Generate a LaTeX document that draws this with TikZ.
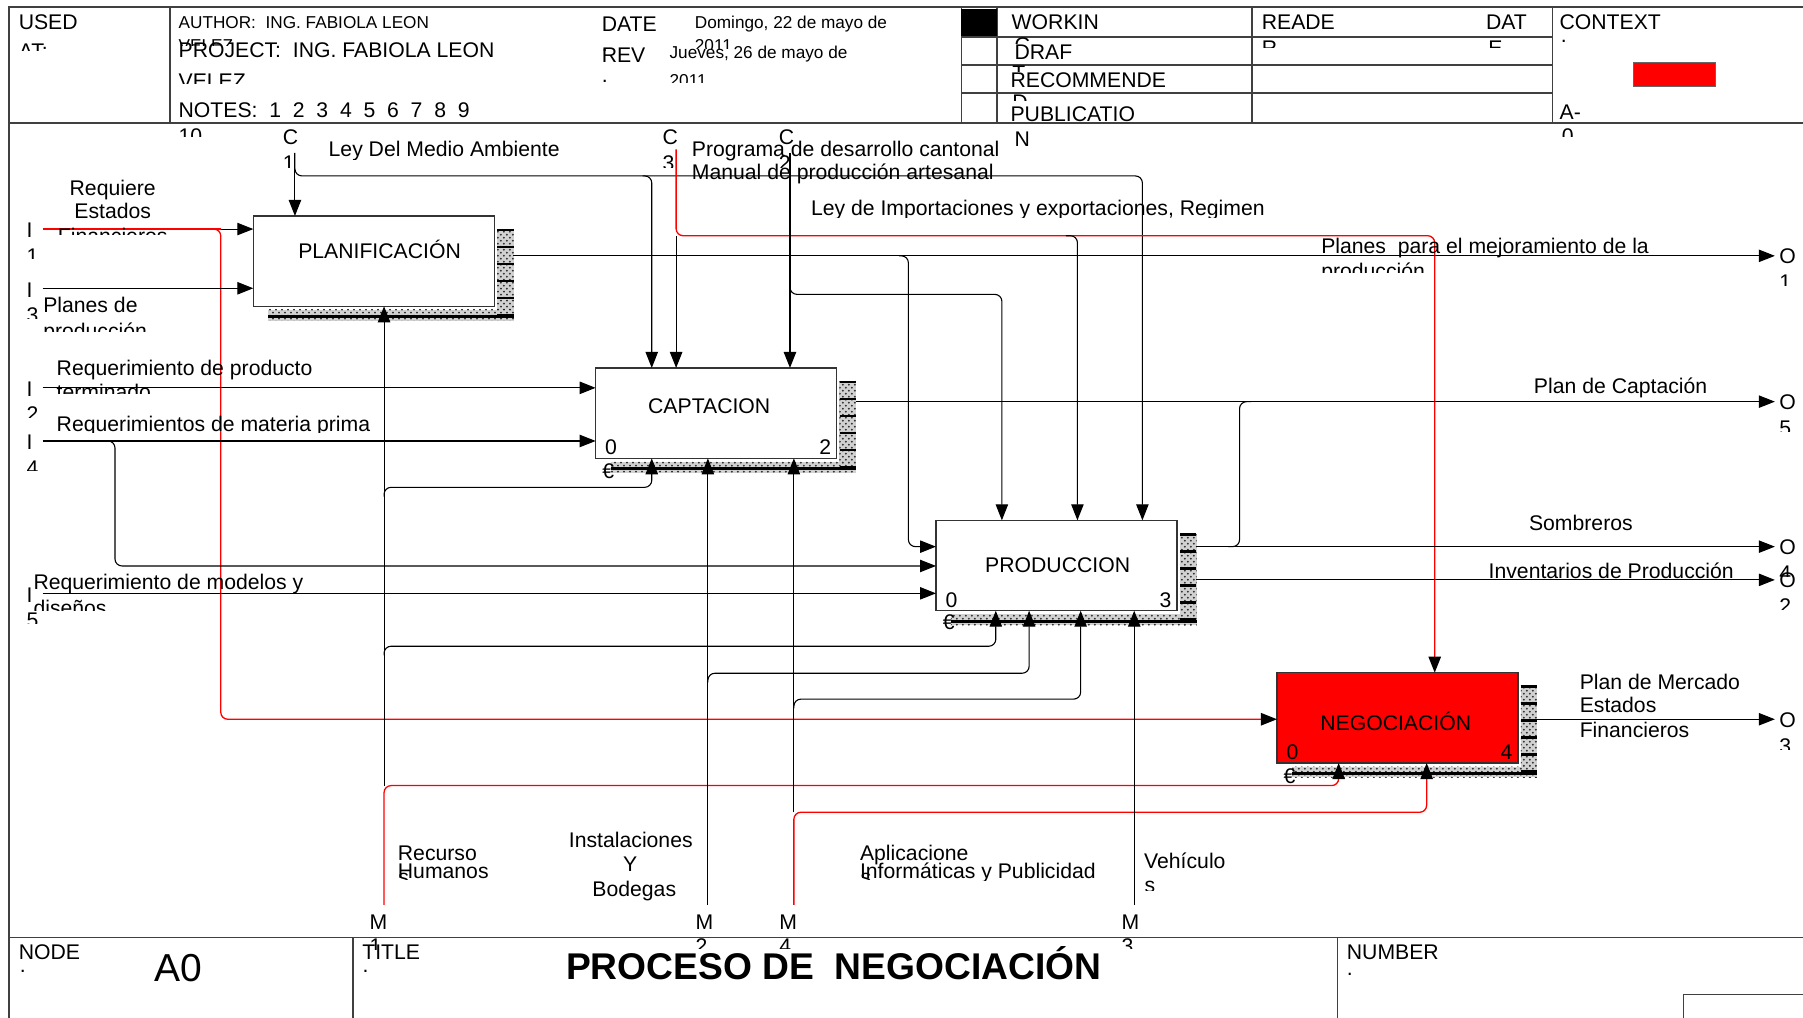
\documentclass[tikz,border=0pt]{standalone}
\usepackage{fontspec}
\setmainfont{Liberation Sans}
\usetikzlibrary{arrows.meta,calc,patterns}

\newcommand{\cutlabel}[6][lbl]{%
  \begin{scope}
    \clip (#3-300,#4-40) rectangle (#3+600,#5);
    \node[#1] (#2) at (#3,#4) {#6};
  \end{scope}}

\newcommand{\boxshade}[1]{%
  \fill[shadefill] ($(#1.north east)+(2.5,11.5)$) rectangle ($(#1.south east)+(17,12.5)$);
  \fill[shadefill] ($(#1.south west)+(13,3)$) rectangle ($(#1.south east)+(17,12.5)$);
  \draw[shadebar] ($(#1.south west)+(13,9)$) -- ($(#1.south east)+(17,9)$);
  \draw[shadetick] ($(#1.north east)+(9.75,11)$) -- ($(#1.south east)+(9.75,12.5)$);}

\begin{document}
\begin{tikzpicture}[x=0.575pt, y=-0.575pt,
                font=\fontsize{10.6}{12.7}\selectfont,
                >={Triangle[length=8pt,width=6.2pt,black]},
                lbl/.style={inner sep=0pt, anchor=base west},
                clbl/.style={inner sep=0pt, anchor=base},
                rlbl/.style={inner sep=0pt, anchor=base east},
                small/.style={lbl, font=\fontsize{8.6}{10}\selectfont},
                frame/.style={line width=0.75pt, draw=black!75},
                funcbox/.style={draw=black!80, line width=0.65pt, fill=white, anchor=north west,
                        inner sep=0pt, outer sep=0pt, minimum width=120.5pt, minimum height=45.2pt},
                shadefill/.style={preaction={fill=black!18}, pattern=crosshatch dots, pattern color=black!85},
                shadebar/.style={line width=1.5pt},
                shadetick/.style={line width=8.3pt, dash pattern=on 1.4pt off 7.1pt},
                arr/.style={->, line width=0.55pt, rounded corners=3.5pt},
                redarr/.style={arr, draw=red, line width=0.65pt},
                redline/.style={draw=red, line width=0.65pt, rounded corners=3.5pt},
                joinline/.style={line width=0.55pt, rounded corners=3.5pt},
            ]
            \useasboundingbox (0,0) rectangle (1568,885);

            \draw[frame] (8,885) -- (8,6) -- (1568,6);
            \draw[frame] (8,107) -- (1568,107);
            \draw[frame] (148,6) -- (148,107) (836,6) -- (836,107) (867,6) -- (867,107)
                (1089,6) -- (1089,107) (1350,6) -- (1350,107);
            \draw[frame] (836,32) -- (1350,32) (836,56.5) -- (1350,56.5) (836,81) -- (1350,81);
            \fill (836,8) rectangle (867,31);
            \filldraw[fill=red, draw=black!60, line width=0.5pt] (1421,54) rectangle (1492,75);
            \draw[frame] (8,815.5) -- (1568,815.5);
            \draw[frame] (307,815.5) -- (307,885) (1163,815.5) -- (1163,885);
            \draw[frame] (1464,885) -- (1464,865) -- (1568,865);

            \node[lbl] (used) at (16,25.5) {USED};
            \cutlabel{usedat}{16}{51}{44}{AT:}
            \node[small] (author) at (155,25) {AUTHOR:~ ING. FABIOLA LEON};
            \cutlabel[small]{authorb}{155}{45}{40}{VELEZ}
            \node[lbl] (project) at (155,50) {PROJECT:~ ING. FABIOLA LEON};
            \cutlabel{projectb}{155}{77}{72.5}{VELEZ}
            \node[lbl] (notes) at (155,102.5) {NOTES:~ 1~ 2~ 3~ 4~ 5~ 6~ 7~ 8~ 9};
            \cutlabel{notesb}{155}{125}{119}{10}
            \node[lbl] (date) at (523,27) {DATE};
            \node[lbl] (datedot) at (523,45) {.};
            \node[small] (datev) at (604,25) {Domingo, 22 de mayo de};
            \cutlabel[small]{datevb}{604}{45}{42}{2011}
            \node[lbl] (rev) at (523,54.5) {REV};
            \node[lbl] (revdot) at (523,72) {.};
            \node[small] (revv) at (582,51) {Jueves, 26 de mayo de};
            \cutlabel[small]{revvb}{582}{75}{72}{2011}

            \node[lbl] (working) at (879.5,25.5) {WORKIN};
            \cutlabel{workingb}{882}{46}{38}{G}
            \node[lbl] (draft) at (882,51.5) {DRAF};
            \cutlabel{draftb}{880}{70}{62}{T}
            \node[lbl] (recom) at (878.5,76.5) {RECOMMENDE};
            \cutlabel{recomb}{880}{95}{87}{D}
            \node[lbl] (publ) at (878.5,106) {PUBLICATIO};
            \node[lbl] (publb) at (882,127) {N};
            \node[lbl] (reader) at (1097,25.5) {READE};
            \cutlabel{readerb}{1097}{48}{41}{R}
            \node[lbl] (datest) at (1292,25.5) {DAT};
            \cutlabel{datestb}{1294}{48}{41}{E}
            \node[lbl] (context) at (1356,25.5) {CONTEXT};
            \node[lbl] (contextdot) at (1357,37) {.};
            \node[lbl] (ctxnode) at (1356,103.5) {A-};
            \cutlabel{ctxnodeb}{1358}{125}{119}{0}

            \node[lbl] (nodelbl) at (16,834) {NODE};
            \node[lbl] (nodedot) at (17,846) {.};
            \node[clbl, font=\fontsize{19.5}{22}\selectfont] (nodeid) at (155,854) {A0};
            \node[lbl] (titlelbl) at (314.8,834) {TITLE};
            \node[lbl] (titledot) at (315,846) {.};
            \node[clbl, font=\fontsize{18.6}{22}\selectfont\bfseries] (title) at (725,852) {PROCESO DE~ NEGOCIACIÓN};
            \node[lbl] (numlbl) at (1171,834) {NUMBER};
            \node[lbl] (numdot) at (1171,848) {.};

            \node[funcbox] (plan) at (220.3,187.8) {};
            \node[funcbox] (capt) at (518,320) {};
            \node[funcbox] (prod) at (814,452.5) {};
            \node[funcbox, fill=red] (nego) at (1110.5,585) {};
            \boxshade{plan}
            \boxshade{capt}
            \boxshade{prod}
            \boxshade{nego}
            \node[clbl] (plantxt) at ($(plan.center)+(5,-2)$) {PLANIFICACIÓN};
            \node[clbl] (capttxt) at ($(capt.center)+(-6,0)$) {CAPTACION};
            \node[clbl] (prodtxt) at ($(prod.center)+(1,6.5)$) {PRODUCCION};
            \node[clbl] (negotxt) at ($(nego.center)+(-1.5,11)$) {NEGOCIACIÓN};
            \node[lbl] (captzero) at ($(capt.south west)+(8,-3)$) {0};
            \node[rlbl] (captnum) at ($(capt.south east)+(-4.5,-3)$) {2};
            \node[lbl] (prodzero) at ($(prod.south west)+(8,-3)$) {0};
            \node[rlbl] (prodnum) at ($(prod.south east)+(-4.5,-3)$) {3};
            \node[lbl] (negozero) at ($(nego.south west)+(8,-3)$) {0};
            \node[rlbl] (negonum) at ($(nego.south east)+(-4.5,-3)$) {4};
            \node[inner sep=0pt] (captcost) at ($(capt.south west)+(11,11)$) {€};
            \node[inner sep=0pt] (prodcost) at ($(prod.south west)+(11,10)$) {€};
            \node[inner sep=0pt] (negocost) at ($(nego.south west)+(11,11)$) {€};

            \coordinate (i1) at (37,199.2);
            \coordinate (i3) at (37,250.7);
            \coordinate (i2) at (37,337.3);
            \coordinate (i4) at (37,383.5);
            \coordinate (i5) at (37,516);
            \coordinate (o1) at (1543.5,222.5);
            \coordinate (o5) at (1543.5,349.3);
            \coordinate (o4) at (1543.5,475.4);
            \coordinate (o2) at (1543.5,504.3);
            \coordinate (o3) at (1543.5,625.5);
            \coordinate (c1) at (256.5,133);
            \coordinate (c3) at (588,130);
            \coordinate (c2) at (687,133);
            \coordinate (m1) at (334,787);
            \coordinate (m2) at (615.6,787);
            \coordinate (m4) at (690.4,787);
            \coordinate (m3) at (986.4,787);
            \coordinate (c1cap) at (566.8,153);
            \coordinate (c1prod) at (993.5,153);
            \coordinate (c3neg) at (1247.7,205);
            \coordinate (c3prod) at (937,205);
            \coordinate (c2prod) at (871.3,256);
            \coordinate (o1prod) at (790,475.4);
            \coordinate (o4join) at (1078,349.3);
            \coordinate (i1neg) at (192,199.2);
            \coordinate (i4prod) at (100,492.2);
            \coordinate (m1cap) at (566.8,423.8);
            \coordinate (m1prod) at (866,562);
            \coordinate (m1neg) at (1164.2,683.2);
            \coordinate (m2prod) at (895,585.5);
            \coordinate (m4neg) at (1240.7,706.4);
            \coordinate (m4prod) at (939.8,608);

            \draw[arr] (c1) -- (c1 |- plan.north);
            \draw[arr] (c1) |- (c1prod) -- (c1prod |- prod.north);
            \draw[arr] ($(c1cap)+(-8,0)$) -| (c1cap |- capt.north);
            \draw[redarr] (c3) |- (c3neg) -- (c3neg |- nego.north);
            \draw[arr] (c3 |- c3neg) -- (c3 |- capt.north);
            \draw[arr] ($(c3prod)+(-10,0)$) -| (c3prod |- prod.north);
            \draw[arr] (c2) -- (c2 |- capt.north);
            \draw[arr] ($(c2 |- c2prod)+(0,-8)$) |- (c2prod) -- (c2prod |- prod.north);

            \draw[redline] (i1) -- (i1neg);
            \draw[arr] (i1neg) -- (i1neg -| plan.west);
            \draw[redarr] ($(i1neg)+(-8,0)$) -| (i1neg |- o3) -- (nego.west |- o3);
            \draw[arr] (i3) -- (i3 -| plan.west);
            \draw[arr] (i2) -- (i2 -| capt.west);
            \draw[arr] (i4) -- (i4 -| capt.west);
            \draw[arr] ($(i4 -| i4prod)+(-8,0)$) -| (i4prod) -- (i4prod -| prod.west);
            \draw[arr] (i5) -- (i5 -| prod.west);

            \draw[arr] ($(plan.east |- o1)+(16.5,0)$) -- (o1);
            \draw[arr] ($(o1prod |- o1)+(-8,0)$) -| (o1prod) -- (o1prod -| prod.west);
            \draw[arr] ($(capt.east |- o5)+(16.5,0)$) -- (o5);
            \draw[arr] ($(prod.east |- o4)+(16.5,0)$) -- (o4);
            \draw[joinline] ($(o4join |- o4)+(-10,0)$) -| (o4join) -- ++(10,0);
            \draw[arr] ($(prod.east |- o2)+(16.5,0)$) -- (o2);
            \draw[arr] ($(nego.east |- o3)+(16.5,0)$) -- (o3);

            \draw[redarr] (m1) |- (m1neg) -- (m1neg |- nego.south);
            \draw[arr] (m1 |- m1neg) -- (m1 |- plan.south);
            \draw[arr] ($(m1 |- m1cap)+(0,8)$) |- (m1cap) -- (m1cap |- capt.south);
            \draw[arr] ($(m1 |- m1prod)+(0,8)$) |- (m1prod) -- (m1prod |- prod.south);
            \draw[arr] (m2) -- (m2 |- capt.south);
            \draw[arr] ($(m2 |- m2prod)+(0,8)$) |- (m2prod) -- (m2prod |- prod.south);
            \draw[redarr] (m4) |- (m4neg) -- (m4neg |- nego.south);
            \draw[arr] (m4 |- m4neg) -- (m4 |- capt.south);
            \draw[arr] ($(m4 |- m4prod)+(0,8)$) |- (m4prod) -- (m4prod |- prod.south);
            \draw[arr] (m3) -- (m3 |- prod.south);

            \node[lbl] (c1l) at (245.6,126) {C};
            \cutlabel{c1n}{245.6}{148}{145.5}{1}
            \node[lbl] (c3l) at (576,126) {C};
            \cutlabel{c3n}{576}{148}{145.5}{3}
            \node[lbl] (c2l) at (677,126) {C};
            \cutlabel{c2n}{677}{148}{145.5}{2}
            \node[lbl] (i1l) at (22.7,206.9) {I};
            \cutlabel{i1n}{22.7}{228.8}{225.2}{1}
            \node[lbl] (i3l) at (22.7,258.4) {I};
            \cutlabel{i3n}{22.7}{280.3}{276.7}{3}
            \node[lbl] (i2l) at (22.7,345) {I};
            \cutlabel{i2n}{22.7}{366.9}{363.3}{2}
            \node[lbl] (i4l) at (22.7,391.2) {I};
            \cutlabel{i4n}{22.7}{413.1}{409.5}{4}
            \node[lbl] (i5l) at (22.7,523.7) {I};
            \cutlabel{i5n}{22.7}{545.6}{542}{5}
            \node[lbl] (o1l) at (1547,229.5) {O};
            \cutlabel{o1n}{1547}{252.1}{248.5}{1}
            \node[lbl] (o5l) at (1547,356.3) {O};
            \cutlabel{o5n}{1547}{378.9}{375.3}{5}
            \node[lbl] (o4l) at (1547,482.4) {O};
            \cutlabel{o4n}{1547}{505}{501.4}{4}
            \node[lbl] (o2l) at (1547,511.3) {O};
            \cutlabel{o2n}{1547}{533.9}{530.3}{2}
            \node[lbl] (o3l) at (1547,632.5) {O};
            \cutlabel{o3n}{1547}{655.1}{651.5}{3}
            \node[lbl] (m1l) at (321,808.5) {M};
            \cutlabel{m1n}{321}{829}{826}{1}
            \node[lbl] (m2l) at (604.6,808.5) {M};
            \cutlabel{m2n}{604.6}{829}{825}{2}
            \node[lbl] (m4l) at (677.5,808.5) {M};
            \cutlabel{m4n}{677.5}{829}{825}{4}
            \node[lbl] (m3l) at (975,808.5) {M};
            \cutlabel{m3n}{975}{829}{825}{3}

            \node[clbl] (reqest) at (98,169.6) {Requiere};
            \node[clbl] (reqest2) at (98,189.6) {Estados};
            \cutlabel[clbl]{reqest3}{98}{211.8}{204.3}{Financieros}
            \node[lbl] (planprod) at (37.3,272) {Planes de};
            \cutlabel{planprod2}{37.3}{294}{288.5}{producción}
            \node[lbl] (reqprod) at (49,326.5) {Requerimiento de producto};
            \cutlabel{reqprod2}{49}{347.5}{342}{terminado}
            \cutlabel{reqmat}{49}{375}{376.5}{Requerimientos de materia prima}
            \node[lbl] (reqmod) at (28.8,512.4) {Requerimiento de modelos y};
            \cutlabel{reqmod2}{28.8}{535.5}{530.5}{diseños}
            \cutlabel{leyma}{285.5}{135.8}{138.5}{Ley Del Medio Ambiente}
            \node[lbl] (progcant) at (601.4,136) {Programa de desarrollo cantonal};
            \node[lbl] (manprod) at (601.4,156.5) {Manual de producción artesanal};
            \cutlabel{leyimp}{705}{187}{189}{Ley de Importaciones y exportaciones, Regimen}
            \node[lbl] (planmej) at (1148.7,220.3) {Planes~ para el mejoramiento de la};
            \cutlabel{planmej2}{1148.7}{242}{237}{producción}
            \node[lbl] (plancap) at (1333.7,342) {Plan de Captación};
            \node[lbl] (sombr) at (1329.4,461) {Sombreros};
            \node[lbl] (invprod) at (1294.3,503) {Inventarios de Producción};
            \node[lbl] (planmer) at (1373.5,600) {Plan de Mercado};
            \node[lbl] (planmer2) at (1373.5,620) {Estados};
            \node[lbl] (planmer3) at (1373.5,641) {Financieros};
            \node[lbl] (rrhh) at (345.7,748) {Recurso};
            \cutlabel{rrhh2}{346}{769}{765}{s}
            \node[lbl] (rrhh3) at (345.7,764) {Humanos};
            \node[clbl] (inst) at (548.6,737) {Instalaciones};
            \node[clbl] (inst2) at (548,758) {Y};
            \node[clbl] (inst3) at (551.6,780) {Bodegas};
            \node[lbl] (apinf) at (747.6,748) {Aplicacione};
            \cutlabel{apinf2}{748}{769}{765}{s}
            \cutlabel{apinf3}{747.6}{764}{765.5}{Informáticas y Publicidad}
            \node[lbl] (vehic) at (994.7,755) {Vehículo};
            \cutlabel{vehic2}{995}{776.6}{774}{s}

        \end{tikzpicture}
\end{document}
